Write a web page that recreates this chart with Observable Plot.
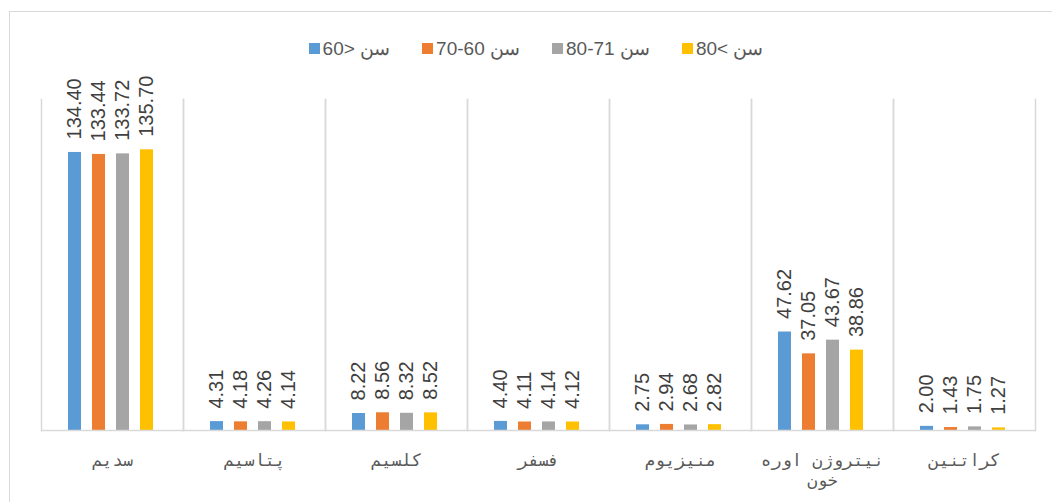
<!DOCTYPE html>
<html>
<head>
<meta charset="utf-8">
<script src="https://cdn.jsdelivr.net/npm/d3@7"></script>
<script src="https://cdn.jsdelivr.net/npm/@observablehq/plot@0.6"></script>
<style>
  html, body { margin: 0; padding: 0; background: #fff; overflow: hidden; }
  body { width: 1052px; height: 502px; position: relative; }
  #border { position: absolute; left: 9px; top: 11px; width: 1100px; height: 600px; border: 1px solid #d9d9d9; box-sizing: border-box; }
  #legend { position: relative; height: 60px; box-sizing: border-box; padding-top: 37px; display: flex; justify-content: center; align-items: center; font-family: "Liberation Sans", Arial, sans-serif; font-size: 19px; color: #595959; line-height: 20px; padding-left: 20px; }
  .item { display: flex; align-items: center; margin: 0 16px; }
  .sw { width: 11px; height: 11px; margin-right: 3px; }
  #chart { position: relative; }
</style>
</head>
<body>
<div id="border"></div>
<div id="legend"></div>
<div id="chart"></div>
<script>
const categories = ["سدیم", "پتاسیم", "کلسیم", "فسفر", "منیزیوم", "نیتروژن اوره خون", "کراتنین"];
const tickLabels = ["سدیم", "پتاسیم", "کلسیم", "فسفر", "منیزیوم", "نیتروژن اوره\nخون", "کراتنین"];
const series = ["سن <60", "سن 60-70", "سن 71-80", "سن >80"];
const colors = ["#5B9BD5", "#ED7D31", "#A5A5A5", "#FFC000"];
const age1 = [134.40, 4.31, 8.22, 4.40, 2.75, 47.62, 2.00];
const age2 = [133.44, 4.18, 8.56, 4.11, 2.94, 37.05, 1.43];
const age3 = [133.72, 4.26, 8.32, 4.14, 2.68, 43.67, 1.75];
const age4 = [135.70, 4.14, 8.52, 4.12, 2.82, 38.86, 1.27];

const seriesValues = [age1, age2, age3, age4];
const rows = [];
categories.forEach((c, i) => {
  series.forEach((s, j) => rows.push({category: c, series: s, value: seriesValues[j][i]}));
});
const labelRows = categories.map((c, i) => ({category: c, label: tickLabels[i]}));

// legend
const legend = document.getElementById("legend");
series.forEach((s, j) => {
  const it = document.createElement("div");
  it.className = "item";
  const sw = document.createElement("span");
  sw.className = "sw";
  sw.style.background = colors[j];
  const t = document.createElement("span");
  t.dir = "rtl";
  t.textContent = s;
  it.appendChild(sw);
  it.appendChild(t);
  legend.appendChild(it);
});

const chart = Plot.plot({
  width: 1052,
  height: 442,
  marginLeft: 38,
  marginRight: 15,
  marginTop: 39,
  marginBottom: 72,
  fx: {domain: categories, padding: 0, axis: null},
  x: {domain: series, paddingInner: 0.46, paddingOuter: 1.17, axis: null},
  y: {domain: [0, 160], axis: null},
  color: {domain: series, range: colors},
  marks: [
    Plot.frame({anchor: "left", stroke: "#d9d9d9", strokeWidth: 1.5, strokeOpacity: 1}),
    Plot.frame({anchor: "right", stroke: "#d9d9d9", strokeWidth: 1.5, strokeOpacity: 1}),
    Plot.barY(rows, {fx: "category", x: "series", y: "value", fill: "series", dx: -2}),
    Plot.ruleY([0], {stroke: "#d9d9d9", strokeWidth: 1.5}),
    Plot.text(rows, {fx: "category", x: "series", y: "value", text: d => d.value.toFixed(2),
      rotate: -90, textAnchor: "start", dy: -13, dx: -2, fontSize: 20, fill: "#404040",
      fontFamily: "Liberation Sans, Arial, sans-serif"}),
    Plot.text(labelRows, {fx: "category", text: "label", frameAnchor: "bottom", lineAnchor: "top",
      dy: 21, fontSize: 17, lineHeight: 1.2, fill: "#595959",
      fontFamily: "DejaVu Sans Mono, monospace"})
  ]
});
document.getElementById("chart").appendChild(chart);
</script>
</body>
</html>
